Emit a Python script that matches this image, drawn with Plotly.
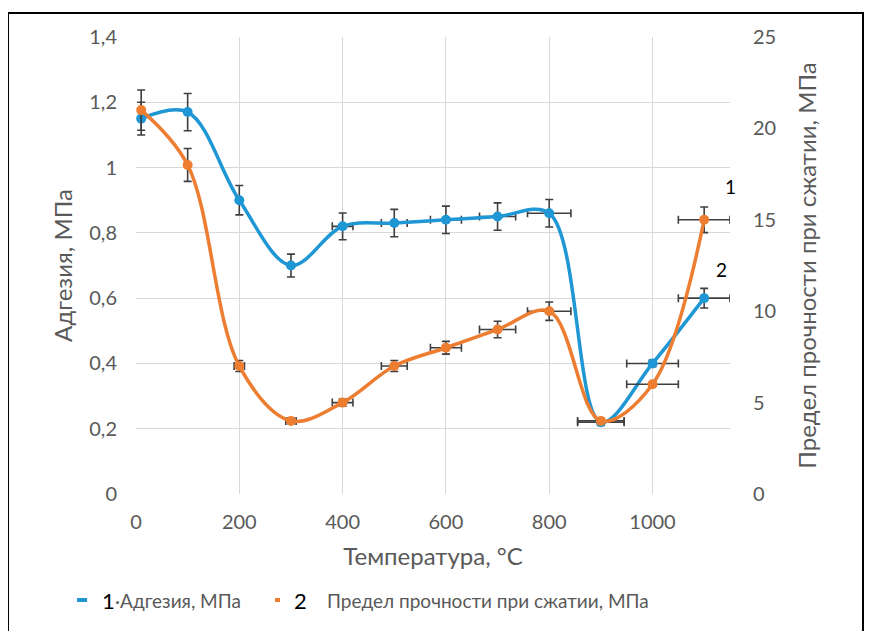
import plotly.graph_objects as go

# ---- data ----
temperature = [10, 100, 200, 300, 400, 500, 600, 700, 800, 900, 1000, 1100]
adhesion = [1.15, 1.17, 0.90, 0.70, 0.82, 0.83, 0.84, 0.85, 0.86, 0.22, 0.40, 0.60]
adhesion_err = [0.05, 0.057, 0.045, 0.035, 0.041, 0.042, 0.042, 0.042, 0.042, 0.01, 0.01, 0.03]
adhesion_xerr = [0, 0, 0, 0, 20, 25, 30, 35, 42, 45, 50, 50]
strength = [21.0, 18.0, 7.0, 4.0, 5.0, 7.0, 8.0, 9.0, 10.0, 4.0, 6.0, 15.0]
strength_err = [1.1, 0.9, 0.3, 0.15, 0.2, 0.3, 0.35, 0.45, 0.5, 0.1, 0.1, 0.7]
strength_xerr = [0, 0, 10, 10, 20, 25, 30, 35, 42, 45, 50, 50]

name1 = "Адгезия, МПа"
name2 = "Предел прочности при сжатии, МПа"
xtitle = "Температура, °C"

BLUE = "#1f97d4"
ORANGE = "#ed7d31"
ERR = "#3f3f3f"
GRID = "#d9d9d9"
TXT = "#595959"
FONT = "Lato, DejaVu Sans Condensed, Noto Sans, sans-serif"

O = 8  # page offset of the figure inside the browser window
W, H = 872 - O, 631 - O
L, R, T, B = 136 - O, 730 - O, 37 - O, 494 - O


def px(x):
    return (x - O - L) / (R - L)


def py(y):
    return (B - (y - O)) / (B - T)


fig = go.Figure()
fig.add_trace(go.Scatter(
    x=temperature, y=adhesion, mode="lines+markers", name=name1,
    line=dict(color=BLUE, width=3.5, shape="spline", smoothing=1.0),
    marker=dict(color=BLUE, size=10),
    error_y=dict(type="data", array=adhesion_err, color=ERR, thickness=1.6, width=4),
    error_x=dict(type="data", array=adhesion_xerr, color=ERR, thickness=1.6, width=4),
    yaxis="y", showlegend=False,
))
fig.add_trace(go.Scatter(
    x=temperature, y=strength, mode="lines+markers", name=name2,
    line=dict(color=ORANGE, width=3.5, shape="spline", smoothing=1.0),
    marker=dict(color=ORANGE, size=10),
    error_y=dict(type="data", array=strength_err, color=ERR, thickness=1.6, width=4),
    error_x=dict(type="data", array=strength_xerr, color=ERR, thickness=1.6, width=4),
    yaxis="y2", showlegend=False,
))

fig.update_layout(
    width=W, height=H,
    margin=dict(l=L, r=W - R, t=T, b=H - B, autoexpand=False),
    paper_bgcolor="white", plot_bgcolor="white",
    separators=", ",
    font=dict(family=FONT, color=TXT, size=18),
    xaxis=dict(
        range=[0, 1150], dtick=200, tick0=0, showgrid=True, gridcolor=GRID, gridwidth=1.3,
        zeroline=False, showline=False, ticks="", tickfont=dict(size=20, color=TXT),
        ticklabelstandoff=14,
        title=dict(text=xtitle, font=dict(size=24, color=TXT), standoff=16),
    ),
    yaxis=dict(
        range=[0, 1.4], dtick=0.2, showgrid=True, gridcolor=GRID, gridwidth=1.3,
        zeroline=False, showline=False, ticks="", tickfont=dict(size=20, color=TXT),
        ticklabelstandoff=18,
        title=dict(text=name1, font=dict(size=24, color=TXT), standoff=9),
    ),
    yaxis2=dict(
        range=[0, 25], dtick=5, overlaying="y", side="right", showgrid=False,
        zeroline=False, showline=False, ticks="", tickfont=dict(size=20, color=TXT),
        ticklabelstandoff=22,
        title=dict(text=name2, font=dict(size=24, color=TXT), standoff=23),
    ),
)

# curve labels
fig.add_annotation(x=1150, y=16.8, xref="x", yref="y2", text="1", showarrow=False,
                   font=dict(size=19, color="black"))
fig.add_annotation(x=1134, y=12.3, xref="x", yref="y2", text="2", showarrow=False,
                   font=dict(size=19, color="black"))

# legend (drawn)
fig.add_shape(type="rect", xref="paper", yref="paper",
              x0=px(77), x1=px(87), y0=py(602), y1=py(598), fillcolor=BLUE, line=dict(width=0))
fig.add_annotation(x=px(100), y=py(600), xref="paper", yref="paper", xanchor="left",
                   yanchor="middle", text="1", showarrow=False, font=dict(size=22, color="black"))
fig.add_annotation(x=px(113), y=py(600), xref="paper", yref="paper", xanchor="left",
                   yanchor="middle", text="·" + name1, showarrow=False,
                   font=dict(size=19, color=TXT))
fig.add_shape(type="rect", xref="paper", yref="paper",
              x0=px(275), x1=px(280), y0=py(602), y1=py(598), fillcolor=ORANGE, line=dict(width=0))
fig.add_annotation(x=px(292), y=py(600), xref="paper", yref="paper", xanchor="left",
                   yanchor="middle", text="2", showarrow=False, font=dict(size=22, color="black"))
fig.add_annotation(x=px(325), y=py(600), xref="paper", yref="paper", xanchor="left",
                   yanchor="middle", text=name2, showarrow=False,
                   font=dict(size=19, color=TXT))

# outer frame
fig.add_shape(type="rect", xref="paper", yref="paper",
              x0=px(8), x1=px(863), y0=py(650), y1=py(13), line=dict(color="black", width=2),
              layer="below")

fig.write_html("out.html")
